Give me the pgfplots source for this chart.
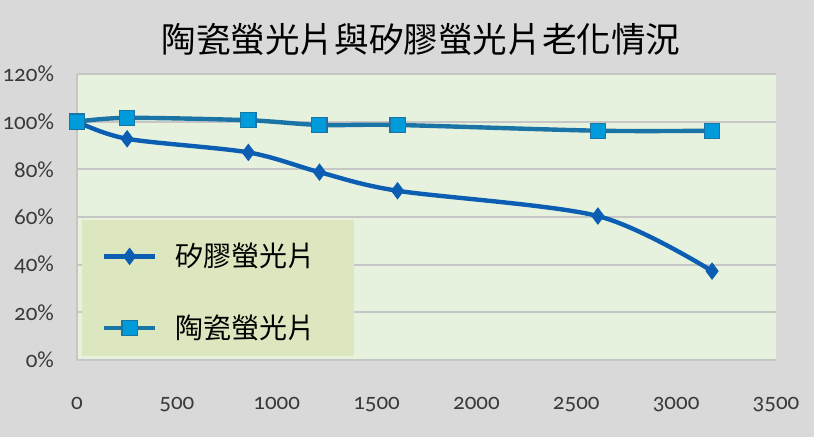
\documentclass[border=0pt]{standalone}
\usepackage{fontspec}
\usepackage{pgfplots}
\pgfplotsset{compat=1.18}
\newfontfamily\cjk{Noto Sans CJK TC}
\newfontfamily\numfont[Numbers=OldStyle]{Carlito}
\definecolor{bggray}{HTML}{D9D9D9}
\definecolor{plotgreen}{HTML}{E6F2DE}
\definecolor{legendgreen}{HTML}{DDE7BF}
\definecolor{gridgray}{HTML}{C6C6C6}
\definecolor{siblue}{HTML}{0B5EB2}
\definecolor{celine}{HTML}{1A74A6}
\definecolor{cefill}{HTML}{009BDB}
\definecolor{tickcol}{HTML}{3A3A3A}

\begin{document}
\begin{tikzpicture}
\fill[bggray] (-38.5pt,-38.5pt) rectangle (368.5pt,180pt);
\useasboundingbox (-38.5pt,-38.5pt) rectangle (368.5pt,180pt);
\node[font=\cjk\fontsize{17.3}{17.3}\selectfont] at (172pt,160pt) {陶瓷螢光片與矽膠螢光片老化情況};
\begin{axis}[
  at={(0pt,0pt)}, anchor=south west,
  scale only axis, width=349.5pt, height=143pt,
  xmin=0, xmax=3500, ymin=0, ymax=120,
  axis background/.style={fill=plotgreen},
  axis line style={draw=gridgray, line width=0.8pt},
  axis x line*=bottom, axis y line*=left,
  major tick length=0pt,
  xtick={0,500,...,3500},
  xticklabels={0,500,1000,1500,2000,2500,3000,3500},
  ytick={0,20,...,120},
  yticklabels={0\%,20\%,40\%,60\%,80\%,100\%,120\%},
  ymajorgrids, grid style={draw=gridgray, line width=1pt},
  ticklabel style={font=\numfont\fontsize{11.5}{11.5}\selectfont, text=tickcol},
  xticklabel style={yshift=-15pt},
  yticklabel style={xshift=-8pt},
  clip=false,
  legend style={at={(0.035,0.05)}, anchor=south west, fill=none, draw=none,
    font=\cjk\fontsize{14}{14}\selectfont, row sep=18.5pt, column sep=7pt,
    inner xsep=0pt, inner ysep=0pt},
  legend cell align=left,
  legend image code/.code={\draw[mark repeat=2,mark phase=2] plot coordinates {(0pt,0pt) (12.75pt,0pt) (25.5pt,0pt)};},
]
\fill[legendgreen] (rel axis cs:0.007,0.014) rectangle (rel axis cs:0.396,0.49);
\addplot[siblue, line width=2.2pt, smooth, mark=diamond*, mark size=4pt,
  mark options={fill=siblue, draw=siblue, line width=0.5pt}]
  coordinates {(0,100) (251,92.8) (858,87.1) (1214,78.8) (1605,71) (2608,60.4) (3180,37.3)};
\addlegendentry{矽膠螢光片}
\addplot[celine, line width=2.2pt, smooth, mark=square*, mark size=3.8pt,
  mark options={fill=cefill, draw=celine, line width=0.6pt}]
  coordinates {(0,100) (251,101.6) (858,100.6) (1214,98.6) (1605,98.6) (2608,96.2) (3180,96.2)};
\addlegendentry{陶瓷螢光片}
\end{axis}
\end{tikzpicture}
\end{document}
